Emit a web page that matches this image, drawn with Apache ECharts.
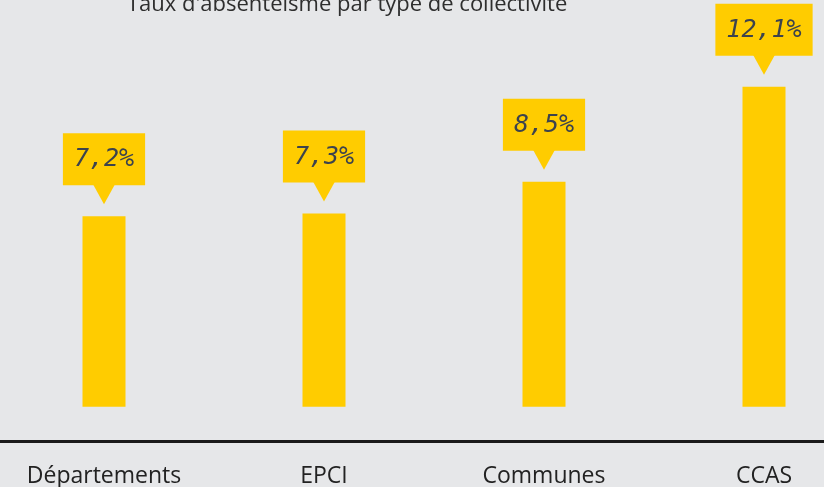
<!DOCTYPE html>
<html>
<head>
<meta charset="utf-8">
<script src="https://cdn.jsdelivr.net/npm/echarts@6/dist/echarts.min.js"></script>
<style>
  html, body { margin: 0; padding: 0; background: #e6e7e9; }
  #main { width: 824px; height: 487px; }
</style>
</head>
<body>
<div id="main"></div>
<script>
// données
var categories = ['Départements', 'EPCI', 'Communes', 'CCAS'];
var tauxAbsenteisme = [7.2, 7.3, 8.5, 12.1];

var jaune = '#FFCC00';
var chart = echarts.init(document.getElementById('main'));

chart.setOption({
  backgroundColor: '#e6e7e9',
  animation: false,
  title: {
    text: "Taux d'absentéisme par type de collectivité",
    left: 127,
    top: -6,
    padding: 0,
    textStyle: {
      fontFamily: 'Open Sans',
      fontSize: 22,
      fontWeight: 'normal',
      color: '#2e2e2e'
    }
  },
  grid: {
    left: -6,
    width: 880,
    top: 10,
    bottom: 46,
    outerBoundsMode: 'none',
    containLabel: false
  },
  xAxis: {
    type: 'category',
    data: categories,
    axisLine: { onZero: false, lineStyle: { color: '#1a1a1a', width: 3 } },
    axisTick: { show: false },
    axisLabel: {
      margin: 24,
      interval: 0,
      fontFamily: 'Open Sans',
      fontSize: 23,
      color: '#222222'
    }
  },
  yAxis: {
    type: 'value',
    min: -1.3,
    max: 15,
    show: false,
    splitLine: { show: false }
  },
  series: [{
    name: 'Taux',
    type: 'bar',
    data: tauxAbsenteisme,
    barWidth: 43,
    itemStyle: { color: jaune },
    label: {
      show: true,
      position: 'top',
      distance: 31,
      formatter: function (p) {
        return String(p.value).replace('.', ',') + '%';
      },
      backgroundColor: jaune,
      padding: [14, 11, 13, 11],
      fontFamily: 'DejaVu Sans Mono',
      fontStyle: 'italic',
      fontSize: 25,
      color: '#3c434d'
    }
  }, {
    // pointe de la bulle
    name: 'pointe',
    type: 'scatter',
    data: tauxAbsenteisme,
    symbol: 'triangle',
    symbolRotate: 180,
    symbolSize: [22, 20],
    symbolOffset: [0, -22],
    itemStyle: { color: jaune, opacity: 1 },
    silent: true,
    z: 3
  }]
});
</script>
</body>
</html>
